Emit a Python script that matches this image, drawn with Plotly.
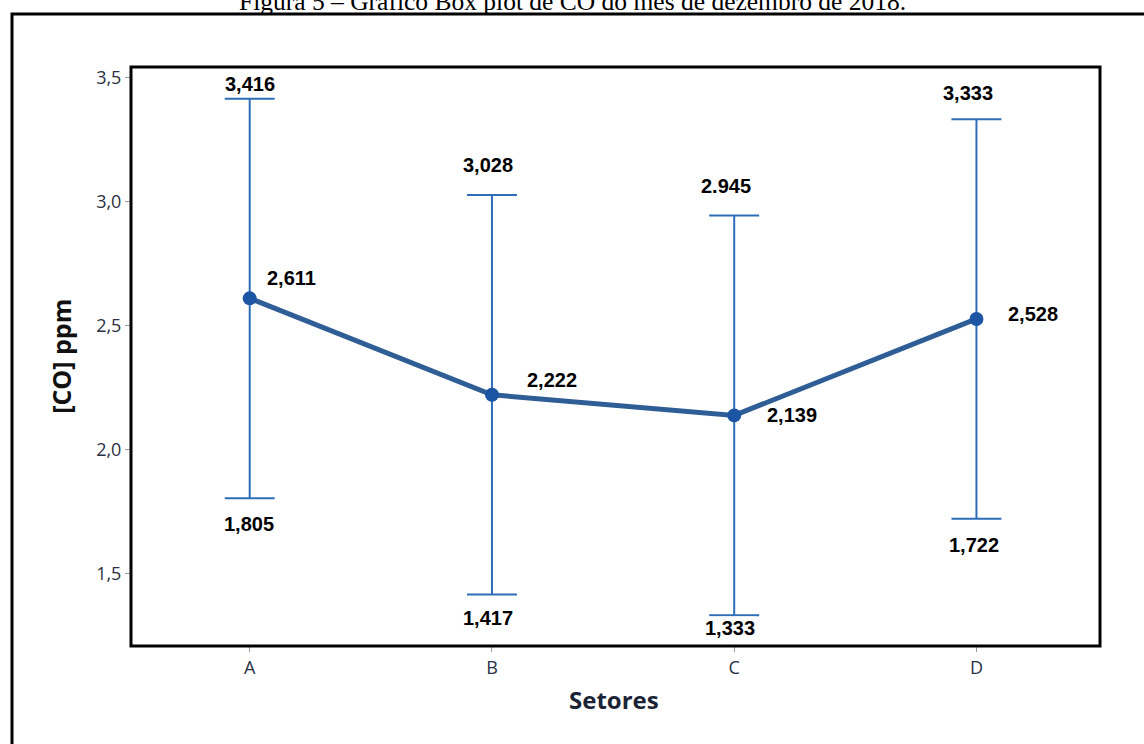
import plotly.graph_objects as go

# CO concentration (ppm) by sector, December 2018
sectors = ["A", "B", "C", "D"]
mean_co = [2.611, 2.222, 2.139, 2.528]
upper_co = [3.416, 3.028, 2.945, 3.333]
lower_co = [1.805, 1.417, 1.333, 1.722]
upper_sep = [",", ",", ".", ","]
y_ticks = [1.5, 2.0, 2.5, 3.0, 3.5]
y_tick_text = ["1,5", "2,0", "2,5", "3,0", "3,5"]

def fmt(v, sep=","):
    return "<b>" + f"{v:.3f}".replace(".", sep) + "</b>"

fig = go.Figure()
fig.add_trace(go.Scatter(
    x=sectors, y=mean_co,
    mode="lines+markers",
    line=dict(color="#2f5d95", width=5),
    marker=dict(color="#1c55a3", size=14, symbol="circle"),
    error_y=dict(
        type="data", symmetric=False,
        array=[u - m for u, m in zip(upper_co, mean_co)],
        arrayminus=[m - l for m, l in zip(mean_co, lower_co)],
        color="#2e6db8", thickness=2, width=25,
    ),
    showlegend=False,
))

label_font = dict(family="Liberation Sans, Arial", size=20, color="#000000")

# offsets (px) of the value labels from their marks
upper_shift = [(0, 15), (-4, 30), (-8, 30), (-8, 26)]
mean_shift = [(42, 20), (60, 15), (58, 0), (57, 5)]
lower_shift = [(-1, -26), (-4, -24), (-4, -13), (-2, -26)]
upper_bg = ["white", None, None, None]
lower_bg = [None, None, "white", None]

for i, s in enumerate(sectors):
    fig.add_annotation(x=s, y=upper_co[i], text=fmt(upper_co[i], upper_sep[i]),
                       showarrow=False, font=label_font,
                       xshift=upper_shift[i][0], yshift=upper_shift[i][1],
                       bgcolor=upper_bg[i] or "rgba(0,0,0,0)", borderpad=0)
    fig.add_annotation(x=s, y=mean_co[i], text=fmt(mean_co[i]),
                       showarrow=False, font=label_font,
                       xshift=mean_shift[i][0], yshift=mean_shift[i][1])
    fig.add_annotation(x=s, y=lower_co[i], text=fmt(lower_co[i]),
                       showarrow=False, font=label_font,
                       xshift=lower_shift[i][0], yshift=lower_shift[i][1],
                       bgcolor=lower_bg[i] or "rgba(0,0,0,0)", borderpad=0)

# axis titles
fig.add_annotation(xref="paper", yref="paper", x=-0.0925, y=0.5,
                   text="<b>[CO] ppm</b>", textangle=-90, showarrow=False,
                   font=dict(family="Open Sans", size=25, color="#111111"))
fig.add_annotation(xref="paper", yref="paper", x=0.498, y=-0.124,
                   text="<b>Setores</b>", showarrow=False,
                   font=dict(family="Open Sans", size=24, color="#1b2436"))

# figure caption
fig.add_annotation(xref="paper", yref="paper", x=0.4556, y=1.141,
                   text="Figura 5 – Gráfico Box plot de CO do mês de dezembro de 2018.",
                   showarrow=False,
                   font=dict(family="Liberation Serif, Times New Roman", size=25.5, color="#000000"))

# plot frame and outer page frame
fig.add_shape(type="rect", xref="paper", yref="paper", x0=0, x1=1, y0=0, y1=1,
              line=dict(color="#000000", width=3), layer="above")
fig.add_shape(type="rect", xref="paper", yref="paper", x0=-0.1228, x1=1.06,
              y0=-0.19, y1=1.0915, line=dict(color="#000000", width=3), layer="above")

tick_font = dict(family="Open Sans", size=18, color="#2a3144")
fig.update_xaxes(range=[-0.49, 3.51], showgrid=False, zeroline=False,
                 ticks="outside", ticklen=5, tickcolor="#999999", tickwidth=1,
                 tickfont=tick_font, showline=False)
fig.update_yaxes(range=[1.209, 3.544], tickvals=y_ticks, ticktext=y_tick_text,
                 showgrid=False, zeroline=False, ticks="outside", ticklen=5,
                 tickcolor="#999999", tickwidth=1, tickfont=tick_font, showline=False)

fig.update_layout(width=1144, height=744,
                  margin=dict(l=131, r=44, t=67, b=98),
                  plot_bgcolor="white", paper_bgcolor="white")

fig.write_html("out.html")
